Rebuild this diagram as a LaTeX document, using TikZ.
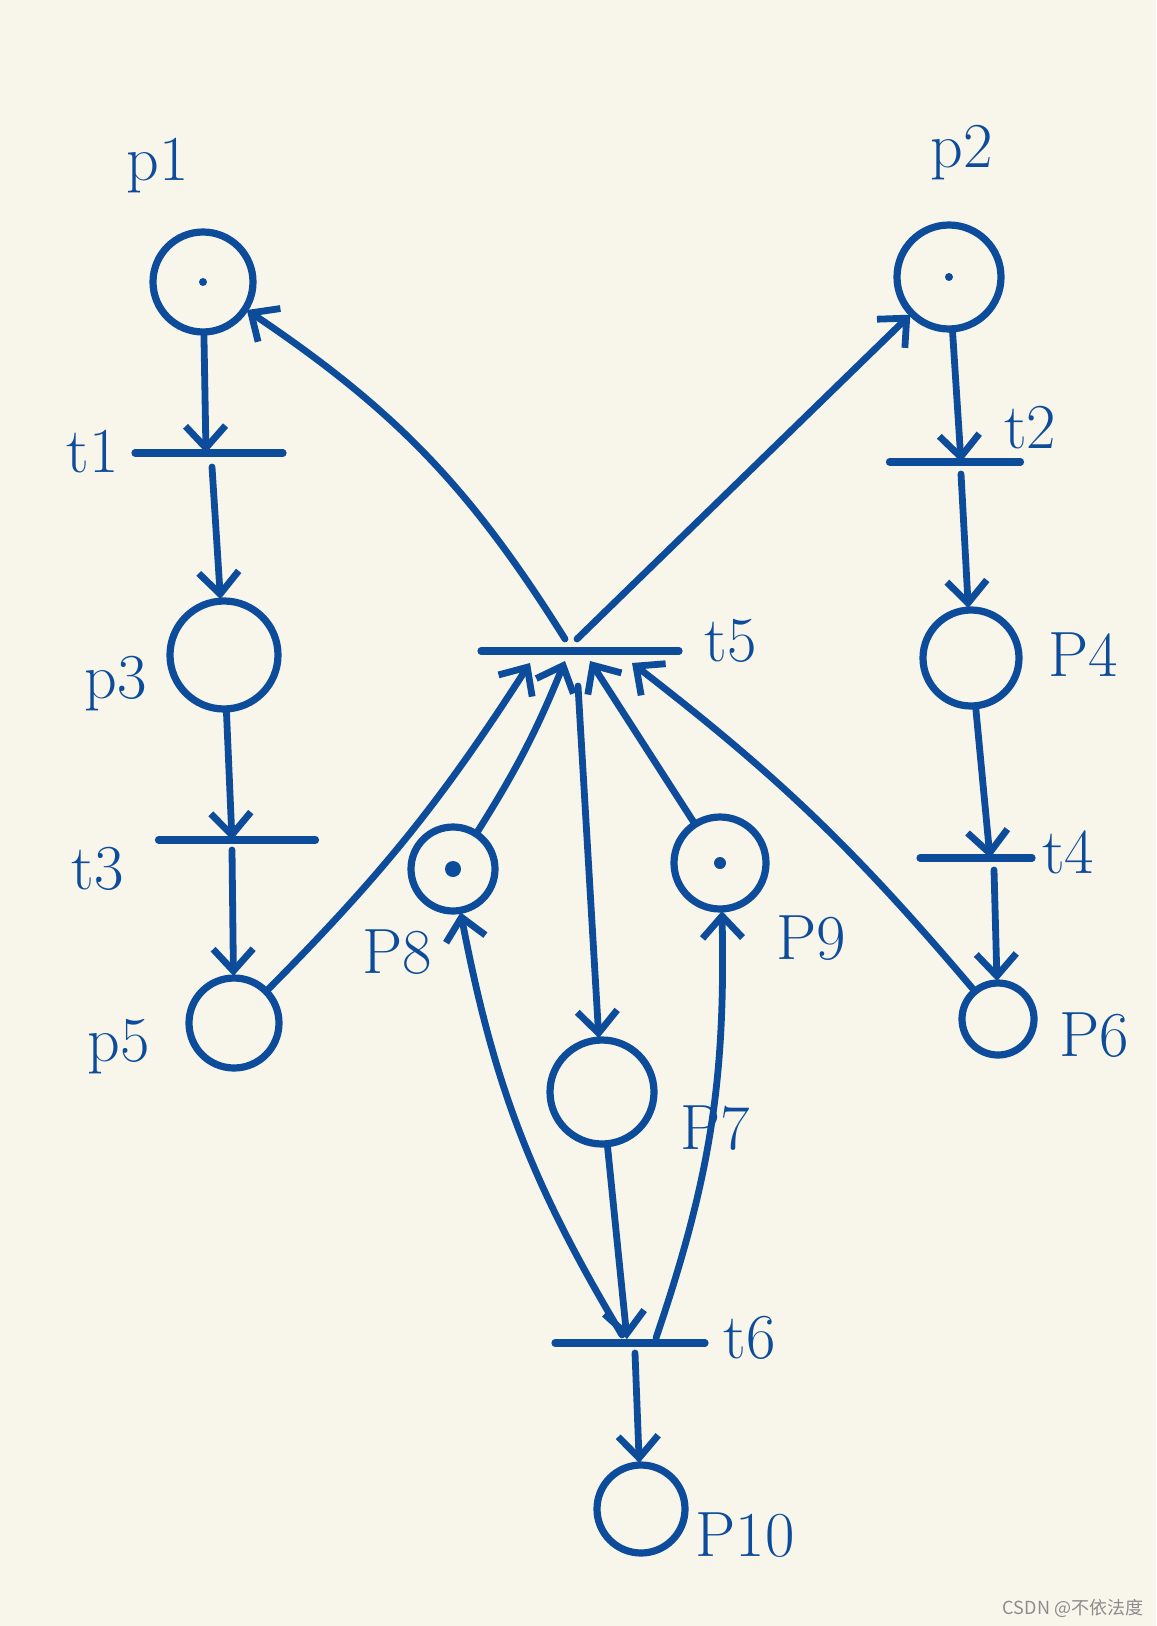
\documentclass[tikz,border=0pt]{standalone}
\usepackage{fontspec}
\newfontfamily\cjk{Noto Sans CJK SC}
\usetikzlibrary{arrows.meta,calc}
\definecolor{ink}{HTML}{0D4C9B}
\definecolor{paper}{HTML}{F8F6EB}
\begin{document}
\begin{tikzpicture}[x=0.5pt,y=-0.5pt,
  place/.style={circle,draw=ink,line width=3.6pt,inner sep=0pt,outer sep=1pt},
  trans/.style={inner sep=0pt,minimum height=0pt,outer sep=0pt},
  bar/.style={draw=ink,line width=3.6pt,line cap=round},
  arc/.style={draw=ink,line width=3.4pt,line cap=round,-{Straight Barb[length=11pt,width=20pt]}},
  lbl/.style={text=ink,font=\fontsize{32}{32}\selectfont,inner sep=0pt},
  tok/.style={fill=ink}]
\fill[paper] (0,0) rectangle (1156,1626);
\useasboundingbox (0,0) rectangle (1156,1626);

% places
\node[place,minimum size=50pt] (p1) at (203,282) {};
\node[place,minimum size=52pt] (p2) at (949,277) {};
\node[place,minimum size=54pt] (p3) at (224,655) {};
\node[place,minimum size=48pt] (p4) at (971,658) {};
\node[place,minimum size=45pt] (p5) at (234,1023) {};
\node[place,minimum size=36pt] (p6) at (998,1019) {};
\node[place,minimum size=52pt] (p7) at (602,1092) {};
\node[place,minimum size=42pt] (p8) at (453,869) {};
\node[place,minimum size=46pt] (p9) at (720,863) {};
\node[place,minimum size=44pt] (p10) at (641,1509) {};

% tokens
\fill[tok] (p1.center) circle[radius=4];
\fill[tok] (p2.center) circle[radius=4];
\fill[tok] (p8.center) circle[radius=8];
\fill[tok] (p9.center) circle[radius=6];

% transitions
\node[trans,minimum width=74pt] (t1) at (209,453) {};
\node[trans,minimum width=65.5pt] (t2) at (955,462) {};
\node[trans,minimum width=78.5pt] (t3) at (237,840) {};
\node[trans,minimum width=56pt] (t4) at (976,858) {};
\node[trans,minimum width=99pt] (t5) at (580,651) {};
\node[trans,minimum width=75pt] (t6) at (630,1343) {};
\foreach \t in {t1,t2,t3,t4,t5,t6} \draw[bar] (\t.west) -- (\t.east);

% labels
\node[lbl] (lp1) at (158,166) {p1};
\node[lbl] (lp2) at (962,153) {p2};
\node[lbl] (lt1) at (93,452) {t1};
\node[lbl] (lt2) at (1030,428) {t2};
\node[lbl] (lp3) at (116,684) {p3};
\node[lbl] (lp4) at (1083,655) {P4};
\node[lbl] (lt3) at (98,869) {t3};
\node[lbl] (lt4) at (1068,852) {t4};
\node[lbl] (lp5) at (119,1047) {p5};
\node[lbl] (lp6) at (1094,1035) {P6};
\node[lbl] (lt5) at (731,641) {t5};
\node[lbl] (lp8) at (397,952) {P8};
\node[lbl] (lp9) at (811,938) {P9};
\node[lbl] (lp7) at (715,1128) {P7};
\node[lbl] (lt6) at (750,1338) {t6};
\node[lbl] (lp10) at (745,1535) {P10};

% left column
\draw[arc] (p1) -- ($(t1)+(-3,0)$);
\draw[arc] ($(t1)+(3,14)$) -- (p3);
\draw[arc] (p3) -- ($(t3)+(-5,0)$);
\draw[arc] ($(t3)+(-5,10)$) -- (p5);
% right column
\draw[arc] (p2) -- ($(t2)+(6,0)$);
\draw[arc] ($(t2)+(6,12)$) -- (p4);
\draw[arc] (p4) -- ($(t4)+(14,0)$);
\draw[arc] ($(t4)+(18,12)$) -- (p6);
% around t5
\draw[arc] (p5) to[bend right=6] ($(t5)+(-50,12)$);
\draw[arc] ($(t5)+(-15,-12)$) to[bend right=12] (p1);
\draw[arc] ($(t5)+(-3,-12)$) -- (p2);
\draw[arc] (p6) to[bend right=6] ($(t5)+(52,12)$);
\draw[arc] (p8) to[bend right=5] ($(t5)+(-15,10)$);
\draw[arc] (p9) -- ($(t5)+(10,10)$);
\draw[arc] ($(t5)+(-2,35)$) -- (p7);
% around t6
\draw[arc] (p7) -- ($(t6)+(-3,-4)$);
\draw[arc] ($(t6)+(5,10)$) -- (p10);
\draw[arc] ($(t6)+(-8,-8)$) to[bend left=10] (p8);
\draw[arc] ($(t6)+(26,-5)$) to[bend right=10] (p9);

% watermark
\node[text=black!45,font=\cjk\fontsize{9}{9}\selectfont,inner sep=0pt] (wm) at (1073,1608) {CSDN @不依法度};
\end{tikzpicture}
\end{document}
